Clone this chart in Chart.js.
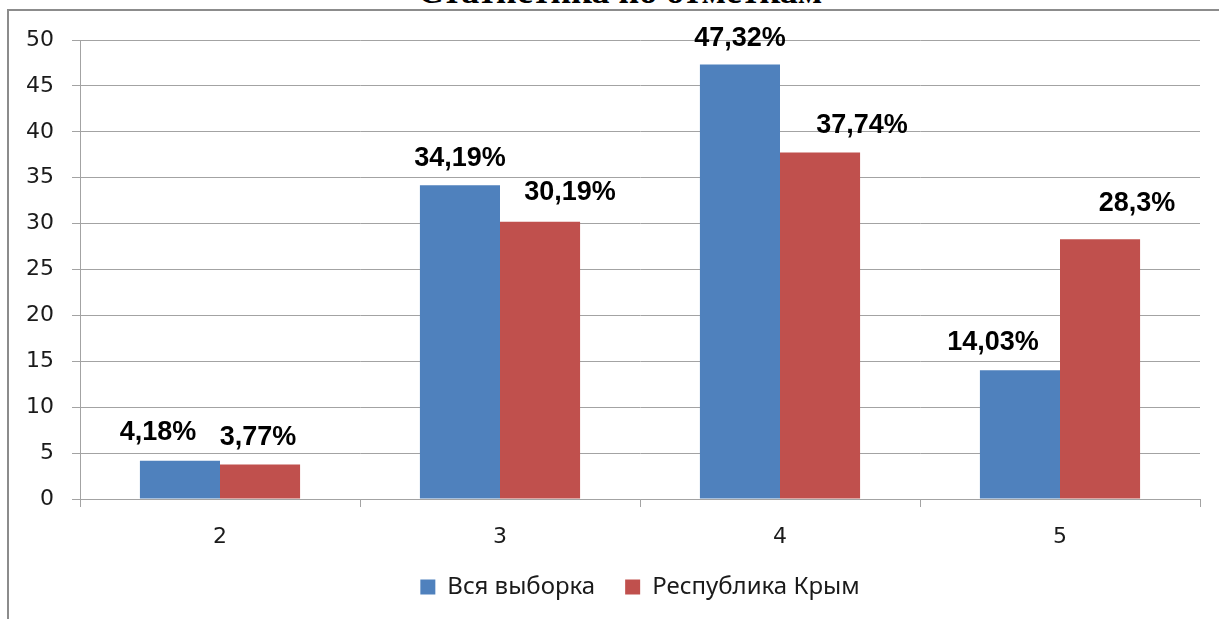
<!DOCTYPE html>
<html lang="ru">
<head>
<meta charset="utf-8">
<title>Статистика по отметкам</title>
<script src="https://cdn.jsdelivr.net/npm/chart.js@4/dist/chart.umd.min.js"></script>
<style>
    html, body { margin: 0; padding: 0; background: #fff; overflow: hidden; }
    #wrap { position: relative; width: 1219px; height: 619px; overflow: hidden; }
    #frame {
        position: absolute; left: 7px; top: 9px; width: 1230px; height: 640px;
        border-top: 2px solid #8c8c8c; border-left: 2px solid #8c8c8c;
    }
    #title {
        position: absolute; left: 0; width: 1240px; top: -27px; text-align: center;
        font: bold 36px/36px "Liberation Serif", "Times New Roman", serif; color: #000;
    }
    #chart { position: absolute; left: 0; top: 0; }
</style>
</head>
<body>
<div id="wrap">
    <div id="title">Статистика по отметкам</div>
    <div id="frame"></div>
    <canvas id="chart" width="1219" height="619"></canvas>
</div>
<script>
// Данные
const categories = ['2', '3', '4', '5'];
const vseVyborka = [4.18, 34.19, 47.32, 14.03];
const respKrym = [3.77, 30.19, 37.74, 28.3];
const yTicks = [0, 5, 10, 15, 20, 25, 30, 35, 40, 45, 50];

const BLUE = '#4f81bd';
const RED = '#c0504d';
const GRID = '#a3a3a3';

// Сдвиг подписей (подписи в оригинале слегка подвинуты вручную)
const labelShift = [
    [[-22, -28], [0, -27], [0, -26], [-27, -28]],
    [[-2, -27], [30, -29], [42, -27], [37, -36]]
];

const fmt = v => String(v).replace('.', ',') + '%';

// --- подписи значений над столбцами ---
const valueLabels = {
    id: 'valueLabels',
    afterDatasetsDraw(chart) {
        const ctx = chart.ctx;
        ctx.save();
        ctx.font = 'bold 27px "Liberation Sans", Arial, sans-serif';
        ctx.fillStyle = '#000';
        ctx.textAlign = 'center';
        ctx.textBaseline = 'middle';
        chart.data.datasets.forEach((ds, di) => {
            chart.getDatasetMeta(di).data.forEach((bar, i) => {
                const s = labelShift[di][i];
                ctx.fillText(fmt(ds.data[i]), bar.x + s[0], bar.y + s[1]);
            });
        });
        ctx.restore();
    }
};

const chart = new Chart(document.getElementById('chart'), {
    type: 'bar',
    data: {
        labels: categories,
        datasets: [
            { label: 'Вся выборка', data: vseVyborka, backgroundColor: BLUE },
            { label: 'Республика Крым', data: respKrym, backgroundColor: RED }
        ]
    },
    options: {
        responsive: false,
        animation: false,
        categoryPercentage: 0.572,
        barPercentage: 1.0,
        layout: { padding: { left: 0, top: 40, right: 19, bottom: 10 } },
        plugins: {
            title: { display: false },
            tooltip: { enabled: false },
            legend: {
                position: 'bottom',
                fullSize: false,
                labels: {
                    boxWidth: 15, boxHeight: 15, padding: 30,
                    color: '#1a1a1a',
                    font: { family: '"Noto Sans", "Open Sans", sans-serif', size: 24 }
                }
            }
        },
        scales: {
            x: {
                grid: { drawOnChartArea: false, offset: true, color: GRID, tickLength: 8 },
                border: { color: GRID },
                ticks: {
                    color: '#1a1a1a', padding: 17,
                    font: { family: '"DejaVu Sans", sans-serif', size: 22 }
                },
                afterFit(scale) { scale.height = 46; }
            },
            y: {
                min: 0, max: 50,
                afterBuildTicks(scale) { scale.ticks = yTicks.map(v => ({ value: v })); },
                grid: { color: GRID, tickLength: 8 },
                border: { color: GRID },
                ticks: {
                    color: '#1a1a1a', padding: 18,
                    font: { family: '"DejaVu Sans", sans-serif', size: 22 }
                },
                afterFit(scale) { scale.width = 80; }
            }
        }
    },
    plugins: [valueLabels]
});
</script>
</body>
</html>
